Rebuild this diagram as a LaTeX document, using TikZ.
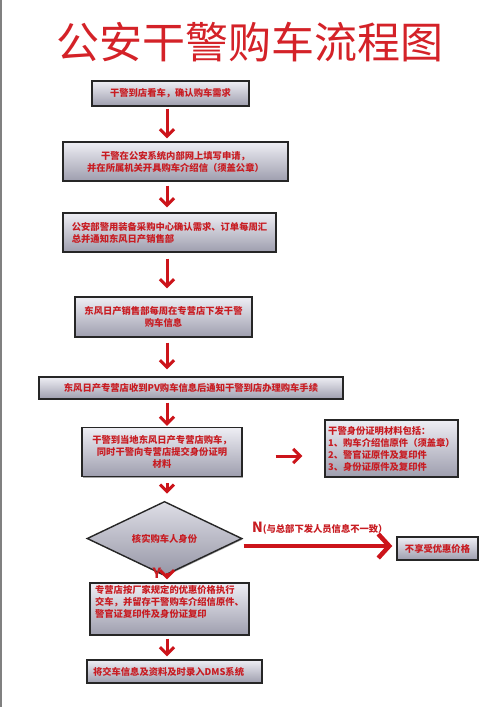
\documentclass[tikz,border=0pt]{standalone}
\usepackage{fontspec}
\setmainfont{Noto Sans CJK SC}
\usetikzlibrary{arrows.meta,shapes.geometric,shadows}
\definecolor{txtred}{RGB}{200,28,34}
\definecolor{titlered}{RGB}{212,34,40}
\definecolor{arrred}{RGB}{204,20,26}
\definecolor{boxtop}{RGB}{238,238,244}
\definecolor{boxbot}{RGB}{158,158,174}
\definecolor{dtop}{RGB}{222,222,230}
\definecolor{dbot}{RGB}{150,150,166}
\begin{document}
\begin{tikzpicture}[x=1pt,y=-1pt,
  box/.style={draw=black!85, line width=1.4pt, top color=boxtop, bottom color=boxbot,
    inner sep=0pt, text=txtred, align=center,
    font=\fontsize{9.3}{12}\selectfont\bfseries,
    drop shadow={shadow xshift=1pt,shadow yshift=-1pt,opacity=0.35,fill=black}},
  dia/.style={box, shape=diamond, top color=dtop, bottom color=dbot},
  arr/.style={draw=arrred, line width=3pt, -{Straight Barb[length=7pt,width=14pt]}},
  bigarr/.style={draw=arrred, line width=4.5pt, -{Straight Barb[length=11pt,width=24pt]}},
  lab/.style={text=txtred, font=\fontsize{9.3}{12}\selectfont\bfseries, inner sep=0pt}
]
\useasboundingbox (0,0) rectangle (500,707);
\fill[white] (0,0) rectangle (500,707);
\draw[gray, line width=1.5pt] (0.75,0) -- (0.75,707);

\node[text=titlered, font=\fontsize{43}{43}\selectfont, inner sep=0pt] (title) at (250,42) {公安干警购车流程图};

\node[box, minimum width=157pt, minimum height=25pt] (b1) at (170.5,93.5) {干警到店看车，确认购车需求};
\node[box, minimum width=225pt, minimum height=39pt] (b2) at (175.5,161.5) {干警在公安系统内部网上填写申请，\\并在所属机关开具购车介绍信（须盖公章）};
\node[box, minimum width=213pt, minimum height=39pt, align=left] (b3) at (169.5,232.5) {公安部警用装备采购中心确认需求、订单每周汇\\总并通知东风日产销售部};
\node[box, minimum width=177pt, minimum height=40pt] (b4) at (163.5,317) {东风日产销售部每周在专营店下发干警\\购车信息};
\node[box, minimum width=304pt, minimum height=22pt] (b5) at (191,388) {东风日产专营店收到PV购车信息后通知干警到店办理购车手续};
\node[box, minimum width=160pt, minimum height=49pt] (b6) at (162,452) {干警到当地东风日产专营店购车，\\同时干警向专营店提交身份证明\\材料};
\node[box, minimum width=133pt, minimum height=57pt, align=left] (b7) at (391.5,448.5) {干警身份证明材料包括：\\1、购车介绍信原件（须盖章）\\2、警官证原件及复印件\\3、身份证原件及复印件};
\node[dia, minimum width=155pt, minimum height=43pt] (d) at (164.5,538.5) {核实购车人身份};
\node[box, minimum width=81pt, minimum height=23pt] (bn) at (437.5,548.5) {不享受优惠价格};
\node[box, minimum width=159pt, minimum height=52pt, align=left] (b8) at (169.5,609) {专营店按厂家规定的优惠价格执行\\交车，并留存干警购车介绍信原件、\\警官证复印件及身份证复印\\[3pt]};
\node[box, minimum width=175pt, minimum height=23pt, align=left, text width=163pt, inner xsep=6pt] (b9) at (174.5,671.5) {将交车信息及资料及时录入DMS系统};

\coordinate (ax) at (167,0);
\coordinate (ry) at (0,456);
\coordinate (ny) at (0,546);

\draw[arr, shorten <=2pt, shorten >=3pt] (b1.south -| ax) -- (b2.north -| ax);
\draw[arr, shorten <=4pt, shorten >=5pt] (b2.south -| ax) -- (b3.north -| ax);
\draw[arr, shorten <=6pt, shorten >=8pt] (b3.south -| ax) -- (b4.north -| ax);
\draw[arr, shorten <=5pt, shorten >=7pt] (b4.south -| ax) -- (b5.north -| ax);
\draw[arr, shorten <=3pt, shorten >=1pt] (b5.south -| ax) -- (b6.north -| ax);
\draw[arr, shorten <=6pt, shorten >=7pt] (b6.south -| ax) -- (d.north -| ax);
\draw[arr, shorten <=3pt, shorten >=3pt] (d.south -| ax) -- (b8.north -| ax);
\draw[arr, shorten <=3pt, shorten >=3pt] (b8.south -| ax) -- (b9.north -| ax);
\draw[arr, shorten <=33pt, shorten >=22pt] (b6.east |- ry) -- (b7.west |- ry);
\draw[bigarr, shorten <=1pt, shorten >=4pt] (d.east |- ny) -- (bn.west |- ny);

\node[lab, anchor=west] (nlab) at (252,528) {{\fontsize{14}{14}\selectfont N}(与总部下发人员信息不一致）};
\node[lab, font=\fontsize{14}{14}\selectfont\bfseries] (ylab) at (157,573) {Y};
\end{tikzpicture}
\end{document}
